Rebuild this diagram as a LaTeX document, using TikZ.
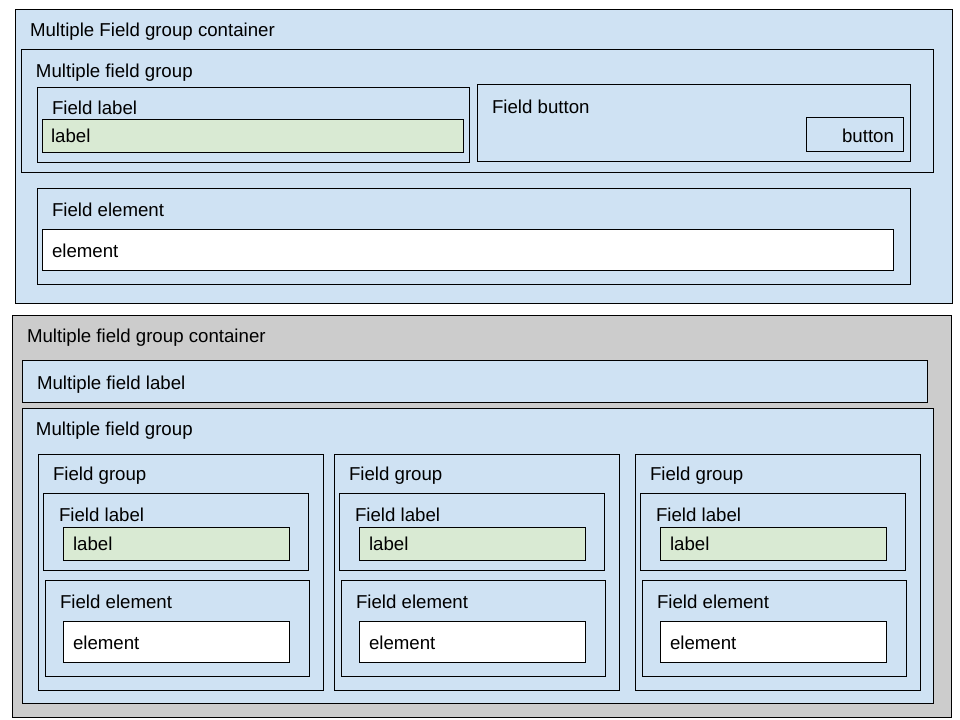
\documentclass[tikz,border=0pt]{standalone}
\usepackage{fontspec}
\setmainfont{Liberation Sans}
\definecolor{bluebg}{HTML}{CFE2F3}
\definecolor{greenbg}{HTML}{D9EAD3}
\definecolor{greybg}{HTML}{CCCCCC}
\newcommand\mybox[6]{\node[box,#6,minimum width={((#4)-(#2))*0.75pt},minimum height={((#5)-(#3))*0.75pt}] (#1) at ({((#2)+(#4))/2},{((#3)+(#5))/2}) {};}
\begin{document}
\begin{tikzpicture}[x=0.75pt,y=-0.75pt,
  box/.style={draw=black, line width=0.75pt, inner sep=0pt, outer sep=0pt, rectangle},
  txt/.style={anchor=base west, inner sep=0pt, outer sep=0pt, font=\fontsize{14}{16.8}\selectfont, text=black}]
\useasboundingbox[fill=white] (0,0) rectangle (960,720);
% top section
\mybox{c1}{15}{10}{952}{304}{fill=bluebg}
\node[txt] (c1t) at (30,36.7) {Multiple Field group container};
\mybox{mfg1}{21}{50}{933}{173}{fill=bluebg}
\node[txt] (mfg1t) at (36,78) {Multiple field group};
\mybox{fl0}{37}{88}{469}{163}{fill=bluebg}
\node[txt] (fl0t) at (52,115) {Field label};
\mybox{lb0}{42}{120}{463}{153}{fill=greenbg}
\node[txt] (lb0t) at (51,143) {label};
\mybox{fb}{477}{85}{910}{162}{fill=bluebg}
\node[txt] (fbt) at (492,114) {Field button};
\mybox{btn}{806}{118}{903}{152}{fill=bluebg}
\node[txt,anchor=base east] (btnt) at (894,143) {button};
\mybox{fe0}{37}{189}{910}{285}{fill=bluebg}
\node[txt] (fe0t) at (52,217) {Field element};
\mybox{el0}{42}{230}{893}{271}{fill=white}
\node[txt] (el0t) at (52,258) {element};
% bottom section
\mybox{c2}{12}{315}{951}{717}{fill=greybg}
\node[txt] (c2t) at (27,342.7) {Multiple field group container};
\mybox{mfl}{22}{360}{927}{402}{fill=bluebg}
\node[txt] (mflt) at (37,389) {Multiple field label};
\mybox{mfg2}{22}{408}{933}{703}{fill=bluebg}
\node[txt] (mfg2t) at (36,435.7) {Multiple field group};
\foreach \d/\n in {0/a,296/b,597/c}{
  \mybox{fg\n}{38+\d}{454}{323+\d}{690}{fill=bluebg}
  \node[txt] (fgt\n) at (53+\d,480.7) {Field group};
  \mybox{fl\n}{43+\d}{493}{308+\d}{570}{fill=bluebg}
  \node[txt] (flt\n) at (59+\d,521.3) {Field label};
  \mybox{lb\n}{63+\d}{527}{289+\d}{560}{fill=greenbg}
  \node[txt] (lbt\n) at (73+\d,550.7) {label};
  \mybox{fe\n}{45+\d}{580}{309+\d}{676}{fill=bluebg}
  \node[txt] (fet\n) at (60+\d,608.3) {Field element};
  \mybox{el\n}{63+\d}{621}{289+\d}{662}{fill=white}
  \node[txt] (elt\n) at (73+\d,649.3) {element};
}
\end{tikzpicture}
\end{document}
